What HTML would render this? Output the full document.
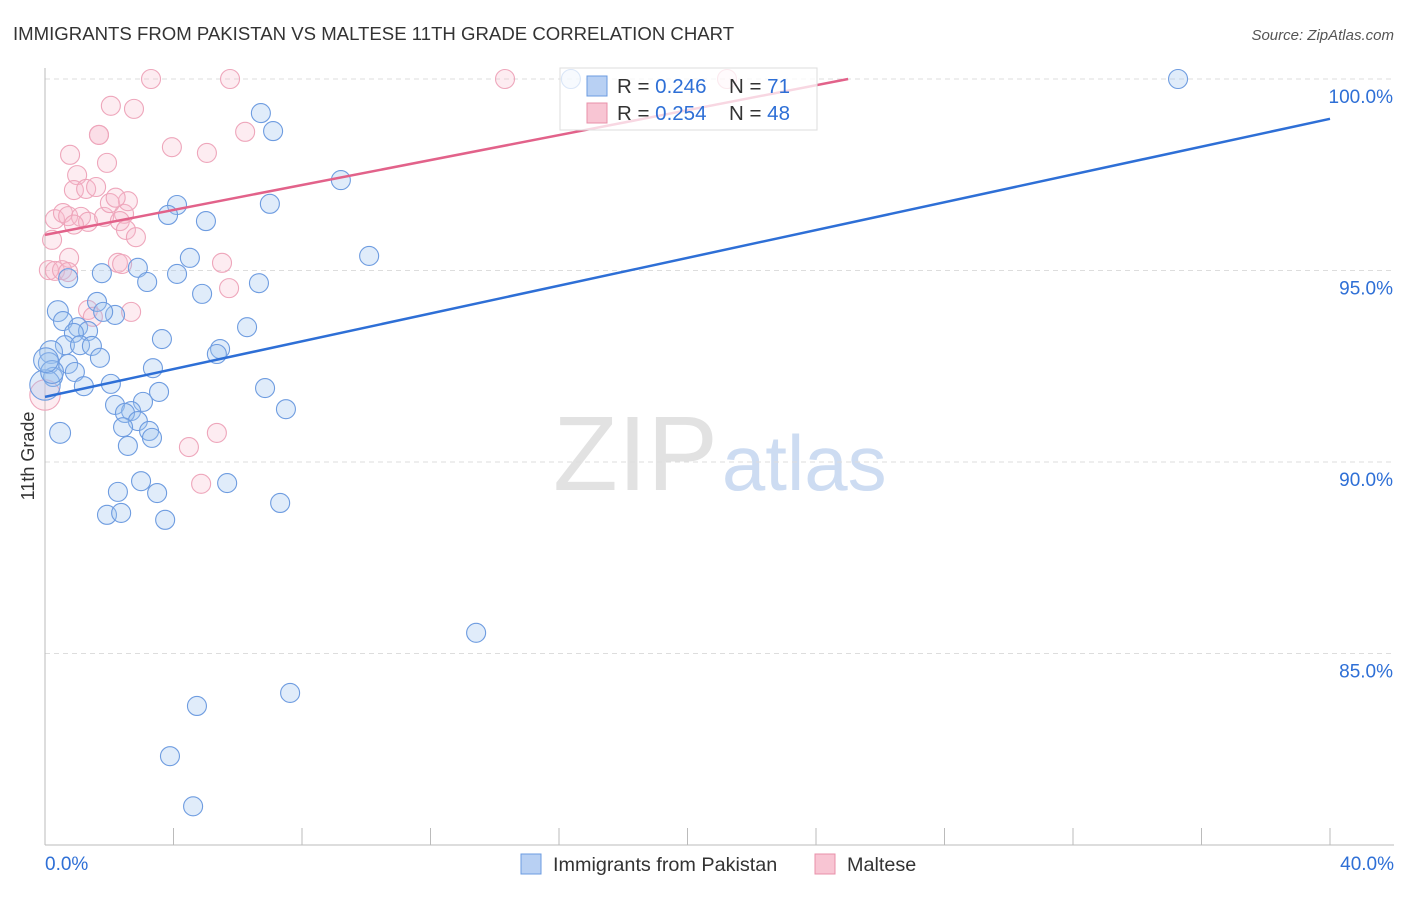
<!DOCTYPE html>
<html><head><meta charset="utf-8"><style>
body{margin:0;background:#fff;font-family:"Liberation Sans",sans-serif}
svg text{font-family:"Liberation Sans",sans-serif}
</style></head><body>
<svg id="chart" width="1406" height="892" viewBox="0 0 1406 892" xmlns="http://www.w3.org/2000/svg">
<text x="13" y="40" font-size="18.6" fill="#333">IMMIGRANTS FROM PAKISTAN VS MALTESE 11TH GRADE CORRELATION CHART</text>
<text x="1394" y="40" font-size="15" fill="#555" font-style="italic" text-anchor="end">Source: ZipAtlas.com</text>
<text x="553" y="490" font-size="106" fill="#e2e2e2" font-family="Liberation Serif">ZIP<tspan fill="#cddcf2" font-family="Liberation Sans" font-size="78" dx="4">atlas</tspan></text>
<text transform="translate(34,456) rotate(-90)" font-size="18" fill="#333" text-anchor="middle">11th Grade</text>
<g id="grid"></g><g id="axes"></g><g id="marks"></g>
<g>
<rect x="560" y="68" width="257" height="62" fill="#fff" fill-opacity="0.75" stroke="#ddd"/>
<rect x="587" y="76" width="20" height="20" fill="#b8d0f3" stroke="#6b9be0"/>
<rect x="587" y="103" width="20" height="20" fill="#f8c5d3" stroke="#e890aa"/>
<text x="617" y="93" font-size="20.5" fill="#333">R = <tspan fill="#2e6fd6">0.246</tspan></text>
<text x="729" y="93" font-size="20.5" fill="#333">N = <tspan fill="#2e6fd6"> 71</tspan></text>
<text x="617" y="120" font-size="20.5" fill="#333">R = <tspan fill="#2e6fd6">0.254</tspan></text>
<text x="729" y="120" font-size="20.5" fill="#333">N = <tspan fill="#2e6fd6">48</tspan></text>
</g>
<g>
<rect x="521" y="854" width="20" height="20" fill="#b8d0f3" stroke="#6b9be0"/>
<text x="553" y="871" font-size="19.8" fill="#333">Immigrants from Pakistan</text>
<rect x="815" y="854" width="20" height="20" fill="#f8c5d3" stroke="#e890aa"/>
<text x="847" y="871" font-size="19.8" fill="#333">Maltese</text>
</g>
</svg>
<script>
const yTicks=[100,95,90,85];
const yTickLabels=["100.0%","95.0%","90.0%","85.0%"];
const xTickLabels=["0.0%","40.0%"];
const blueX=[35.27,6.72,7.10,9.21,4.11,3.83,5.01,7.00,10.09,4.51,2.89,1.77,4.11,3.18,0.72,6.66,4.89,1.62,0.40,2.18,1.81,0.56,1.03,1.34,0.90,6.29,3.64,0.62,1.09,1.46,0.19,1.71,5.45,5.35,0.12,0.72,3.36,0.25,0.93,1.21,2.05,6.85,3.55,3.05,2.18,2.68,7.50,2.49,2.89,2.43,3.24,3.33,0.47,2.58,2.99,5.67,2.27,3.49,7.32,1.93,2.37,3.74,13.42,7.63,4.73,3.89,4.61,16.37,0,0.22,0.03];
const blueY=[100,99.11,98.64,97.36,96.71,96.45,96.29,96.74,95.38,95.33,95.07,94.93,94.91,94.70,94.80,94.67,94.39,94.18,93.94,93.84,93.92,93.68,93.52,93.42,93.37,93.52,93.21,93.05,93.05,93.03,92.87,92.72,92.95,92.82,92.58,92.56,92.45,92.22,92.35,91.98,92.04,91.93,91.83,91.57,91.49,91.33,91.38,91.28,91.07,90.91,90.81,90.63,90.76,90.42,89.50,89.45,89.22,89.19,88.93,88.62,88.67,88.49,85.54,83.97,83.63,82.32,81.01,100,92.01,92.35,92.66];
const blueSize=[1,1,1,1,1,1,1,1,1,1,1,1,1,1,1,1,1,1,1.1,1,1,1,1,1,1,1,1,1,1,1,1.2,1,1,1,1.1,1,1,1,1,1,1,1,1,1,1,1,1,1,1,1,1,1,1.1,1,1,1,1,1,1,1,1,1,1,1,1,1,1,1,1.6,1.2,1.3];
const pinkX=[3.30,5.76,14.32,21.23,2.05,2.77,1.68,3.95,5.04,0.78,6.23,1.93,1.00,0.90,1.28,1.59,0.31,0.56,0.72,1.12,1.34,1.84,2.46,2.58,2.02,2.33,2.52,2.83,0.22,0.75,0.12,0.31,0.53,0.72,2.27,2.40,5.51,5.73,1.34,1.49,2.68,4.48,5.35,4.86,0,1.68,0.9,2.2];
const pinkY=[100,100,100,100,99.30,99.22,98.54,98.22,98.07,98.02,98.62,97.81,97.49,97.10,97.13,97.18,96.34,96.50,96.42,96.40,96.27,96.40,96.48,96.81,96.76,96.29,96.06,95.87,95.80,95.33,95.01,94.99,95.01,94.96,95.20,95.17,95.20,94.54,93.97,93.79,93.92,90.39,90.76,89.43,91.75,98.54,96.2,96.9];
const pinkSize=[1,1,1,1,1,1,1,1,1,1,1,1,1,1,1,1,1,1,1,1,1,1,1,1,1,1,1,1,1,1,1,1,1,1,1,1,1,1,1,1,1,1,1,1,1.6,1,1,1];
const blueTrendX=[0,40], blueTrendY=[91.70,98.96];
const pinkTrendX=[0,25], pinkTrendY=[95.93,100];
const NS="http://www.w3.org/2000/svg";
const xs=v=>45+v*32.125, ys=v=>79+(100-v)*38.3;
function mk(tag,attrs,parent){const e=document.createElementNS(NS,tag);for(const k in attrs)e.setAttribute(k,attrs[k]);document.getElementById(parent).appendChild(e);return e;}
yTicks.forEach((t,i)=>{
 const l=mk('line',{x1:45,x2:1394,y1:ys(t),y2:ys(t),stroke:'#ddd','stroke-dasharray':'5,4'},'grid');
 
 
 const tx=mk('text',{x:1393,y:ys(t)+24,'font-size':19,fill:'#2e6fd6','text-anchor':'end'},'axes');tx.textContent=yTickLabels[i];
 
 
});
const ax=mk('line',{x1:45,x2:45,y1:68,y2:845,stroke:'#bbb'},'axes');


const bx=mk('line',{x1:45,x2:1394,y1:845,y2:845,stroke:'#bbb'},'axes');


for(let i=0;i<=10;i++){const t=mk('line',{x1:xs(i*4),x2:xs(i*4),y1:828,y2:845,stroke:'#bbb'},'axes');
 
 }
xTickLabels.forEach((s,i)=>{const t=mk('text',{x:i?1394:45,y:870,'font-size':19,fill:'#2e6fd6','text-anchor':i?'end':'start'},'axes');t.textContent=s;
 
 });
function dots(X,Y,S,fill,stroke,name){X.forEach((x,i)=>{const c=mk('circle',{cx:xs(x),cy:ys(Y[i]),r:9.5*S[i],fill:fill,stroke:stroke,'stroke-width':1.1},'marks');
 
 });}
dots(pinkX,pinkY,pinkSize,'rgba(248,185,205,0.28)','#eea6bb','maltese-point');
dots(blueX,blueY,blueSize,'rgba(160,195,240,0.32)','#6e9ce0','pakistan-point');
const bl=mk('line',{x1:xs(blueTrendX[0]),y1:ys(blueTrendY[0]),x2:xs(blueTrendX[1]),y2:ys(blueTrendY[1]),stroke:'#2e6fd6','stroke-width':2.5},'marks');


const pl=mk('line',{x1:xs(pinkTrendX[0]),y1:ys(pinkTrendY[0]),x2:xs(pinkTrendX[1]),y2:ys(pinkTrendY[1]),stroke:'#e2628a','stroke-width':2.5},'marks');


</script>
</body></html>
